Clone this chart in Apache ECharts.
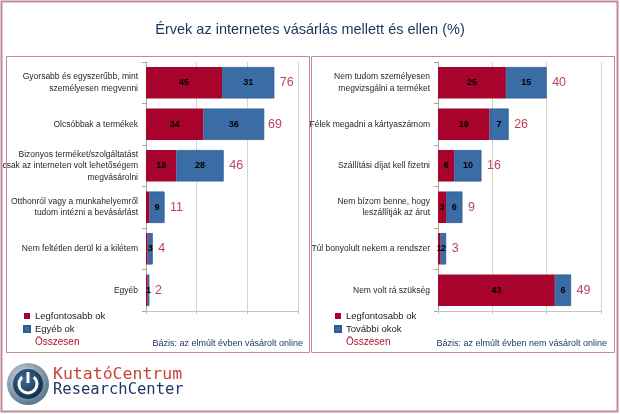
<!DOCTYPE html>
<html><head><meta charset="utf-8">
<script src="https://cdn.jsdelivr.net/npm/echarts@6/dist/echarts.min.js"></script>
<style>html,body{margin:0;padding:0;background:#fff}#c{width:620px;height:414px}</style>
</head><body><div id="c"></div>
<script>
// ---- data ----
const leftCategories = [
  'Gyorsabb és egyszerűbb, mint\nszemélyesen megvenni',
  'Olcsóbbak a termékek',
  'Bizonyos terméket/szolgáltatást\ncsak az interneten volt lehetőségem\nmegvásárolni',
  'Otthonról vagy a munkahelyemről\ntudom intézni a bevásárlást',
  'Nem feltétlen derül ki a kilétem',
  'Egyéb'
];
const leftPrimary = [45, 34, 18, 2, 1, 1];
const leftOther   = [31, 36, 28, 9, 3, 1];
const leftTotals  = [76, 69, 46, 11, 4, 2];

const rightCategories = [
  'Nem tudom személyesen\nmegvizsgálni a terméket',
  'Félek megadni a kártyaszámom',
  'Szállítási díjat kell fizetni',
  'Nem bízom benne, hogy\nleszállítják az árut',
  'Túl bonyolult nekem a rendszer',
  'Nem volt rá szükség'
];
const rightPrimary = [25, 19, 6, 3, 1, 43];
const rightOther   = [15, 7, 10, 6, 2, 6];
const rightTotals  = [40, 26, 16, 9, 3, 49];

const leftAxis  = { min: 0, max: 90, interval: 30 };
const rightAxis = { min: 0, max: 60, interval: 20 };

// ---- style ----
const NARROW = '"Liberation Sans Narrow", "Arial Narrow", "Liberation Sans", Arial, sans-serif';
const RED = '#A8032C';
const BLUE = '#3A6CA6';
const BLUE_EDGE = '#2F5C92';
const TOTRED = '#A8142F';
const NAVY = '#1F3864';
const FRAME = '#C48A94';

function xAxisCfg(ax, gi) {
  return {
    type: 'value', gridIndex: gi, min: ax.min, max: ax.max, interval: ax.interval,
    axisLabel: { show: false },
    axisLine: { show: true, lineStyle: { color: '#C4C4C4' } },
    axisTick: { show: true, length: 3, lineStyle: { color: '#C4C4C4' } },
    splitLine: { show: true, lineStyle: { color: '#D4D4D4' } }
  };
}
function yAxisCfg(cats, gi) {
  return {
    type: 'category', gridIndex: gi, data: cats, inverse: true,
    axisLine: { show: true, lineStyle: { color: '#A6A6A6' } },
    axisTick: { show: true, length: 4, inside: false, lineStyle: { color: '#A6A6A6' } },
    axisLabel: { margin: 8, fontSize: 8.5, lineHeight: 11.5, color: '#262626', fontFamily: NARROW, align: 'right' }
  };
}
const innerLabel = {
  show: true, position: 'inside', color: '#000', fontSize: 9, fontWeight: 'bold', fontFamily: NARROW
};

const option = {
  backgroundColor: '#fff',
  animation: false,
  title: {
    text: 'Érvek az internetes vásárlás mellett és ellen (%)',
    left: 'center', top: 17,
    textStyle: { fontSize: 14.5, fontWeight: 'normal', color: '#17375E', fontFamily: NARROW }
  },
  grid: [
    { left: 146, top: 62, width: 152, height: 249, show: false, containLabel: false, outerBoundsMode: 'none' },
    { left: 438, top: 62, width: 163, height: 249, show: false, containLabel: false, outerBoundsMode: 'none' }
  ],
  xAxis: [xAxisCfg(leftAxis, 0), xAxisCfg(rightAxis, 1)],
  yAxis: [yAxisCfg(leftCategories, 0), yAxisCfg(rightCategories, 1)],
  legend: [
    {
      left: 18, top: 306, orient: 'vertical', itemWidth: 6, itemHeight: 6, itemGap: 3, icon: 'rect',
      textStyle: { fontSize: 9.5, fontFamily: NARROW, color: '#222' },
      data: ['Legfontosabb ok', 'Egyéb ok', { name: 'Összesen', icon: 'none', textStyle: { color: TOTRED, fontSize: 10 } }]
    },
    {
      left: 329, top: 306, orient: 'vertical', itemWidth: 6, itemHeight: 6, itemGap: 3, icon: 'rect',
      textStyle: { fontSize: 9.5, fontFamily: NARROW, color: '#222' },
      data: ['Legfontosabb ok', 'További okok', { name: 'Összesen', icon: 'none', textStyle: { color: TOTRED, fontSize: 10 } }]
    }
  ],
  series: [
    {
      name: 'Legfontosabb ok', type: 'bar', xAxisIndex: 0, yAxisIndex: 0, stack: 'L',
      data: leftPrimary, barCategoryGap: '24%', itemStyle: { color: RED },
      label: Object.assign({}, innerLabel, { formatter: p => (p.value >= 5 ? p.value : '') })
    },
    {
      name: 'Egyéb ok', type: 'bar', xAxisIndex: 0, yAxisIndex: 0, stack: 'L',
      data: leftOther, barCategoryGap: '24%', itemStyle: { color: BLUE, borderColor: BLUE_EDGE, borderWidth: 0.8 }, label: innerLabel
    },
    {
      name: 'Összesen', type: 'scatter', xAxisIndex: 0, yAxisIndex: 0,
      data: leftTotals.map((v, i) => [v, i]), symbolSize: 1, itemStyle: { color: 'rgba(0,0,0,0)' },
      label: { show: true, position: 'right', distance: 5, formatter: p => p.value[0], color: TOTRED, fontSize: 12.5, fontFamily: NARROW }
    },
    {
      name: 'Legfontosabb ok', type: 'bar', xAxisIndex: 1, yAxisIndex: 1, stack: 'R',
      data: rightPrimary, barCategoryGap: '24%', itemStyle: { color: RED }, label: innerLabel
    },
    {
      name: 'További okok', type: 'bar', xAxisIndex: 1, yAxisIndex: 1, stack: 'R',
      data: rightOther, barCategoryGap: '24%', itemStyle: { color: BLUE, borderColor: BLUE_EDGE, borderWidth: 0.8 }, label: innerLabel
    },
    {
      name: 'Összesen', type: 'scatter', xAxisIndex: 1, yAxisIndex: 1,
      data: rightTotals.map((v, i) => [v, i]), symbolSize: 1, itemStyle: { color: 'rgba(0,0,0,0)' },
      label: { show: true, position: 'right', distance: 5, formatter: p => p.value[0], color: TOTRED, fontSize: 12.5, fontFamily: NARROW }
    }
  ],
  graphic: [
    { type: 'rect', z: -1, shape: { x: 1.5, y: 1.5, width: 616, height: 410 }, style: { fill: 'none', stroke: FRAME, lineWidth: 2 } },
    { type: 'rect', z: -1, shape: { x: 6.5, y: 56.5, width: 303, height: 296 }, style: { fill: 'none', stroke: FRAME, lineWidth: 1 } },
    { type: 'rect', z: -1, shape: { x: 311.5, y: 56.5, width: 303, height: 296 }, style: { fill: 'none', stroke: FRAME, lineWidth: 1 } },
    { type: 'text', style: { text: 'Bázis: az elmúlt évben vásárolt online', x: 303, y: 344, align: 'right', verticalAlign: 'middle', font: '9px ' + NARROW, fill: NAVY } },
    { type: 'text', style: { text: 'Bázis: az elmúlt évben nem vásárolt online', x: 607, y: 344, align: 'right', verticalAlign: 'middle', font: '9px ' + NARROW, fill: NAVY } },
    // logo
    { type: 'circle', shape: { cx: 28, cy: 384, r: 21 },
      style: { fill: { type: 'radial', x: 0.4, y: 0.35, r: 0.7, colorStops: [{ offset: 0, color: '#d3dde7' }, { offset: 1, color: '#566f88' }] } } },
    { type: 'circle', shape: { cx: 28, cy: 384, r: 15 },
      style: { fill: { type: 'radial', x: 0.4, y: 0.35, r: 0.7, colorStops: [{ offset: 0, color: '#3f6a92' }, { offset: 1, color: '#102c4a' }] } } },
    { type: 'arc', shape: { cx: 28, cy: 384, r: 9, startAngle: -Math.PI / 2 + 0.7, endAngle: -Math.PI / 2 - 0.7 + 2 * Math.PI },
      style: { fill: 'none', stroke: '#fff', lineWidth: 3 } },
    { type: 'rect', shape: { x: 26.5, y: 372, width: 3, height: 11 }, style: { fill: '#fff' } },
    { type: 'text', style: { text: 'KutatóCentrum', x: 53, y: 375, verticalAlign: 'middle', font: '16.5px "DejaVu Sans Mono", monospace', fill: '#C8453A' } },
    { type: 'text', style: { text: 'ResearchCenter', x: 53, y: 390, verticalAlign: 'middle', font: '15.5px "DejaVu Sans Mono", monospace', fill: NAVY } }
  ]
};

const chart = echarts.init(document.getElementById('c'), null, { renderer: 'canvas' });
chart.setOption(option);
</script>
</body></html>
